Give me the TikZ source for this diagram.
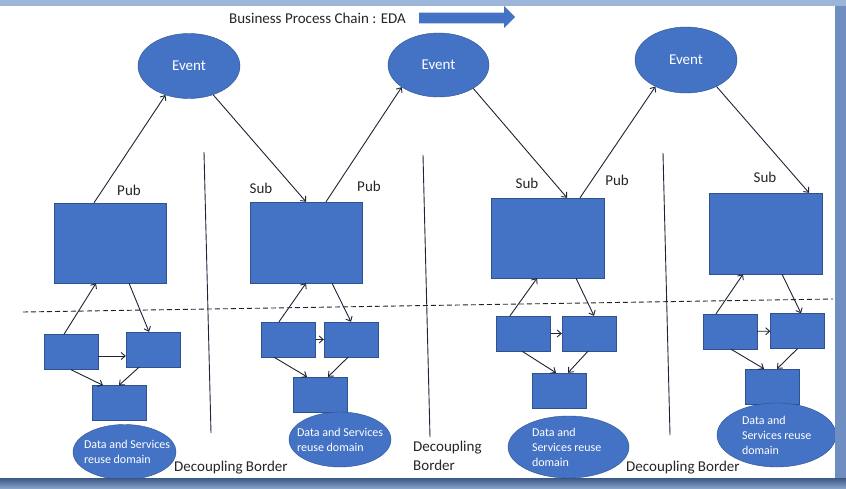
\documentclass[tikz,border=0pt]{standalone}
\usepackage{fontspec}
\setmainfont{Carlito}
\usetikzlibrary{shapes,arrows.meta}

\definecolor{ppblue}{HTML}{4472C4}
\definecolor{ppedge}{HTML}{2F528F}
\definecolor{lnk}{HTML}{1C2436}
\definecolor{frametop}{HTML}{9DB5D8}
\definecolor{frameside}{HTML}{6F8FC2}
\definecolor{framelow}{HTML}{4A6EA6}

\begin{document}
\begin{tikzpicture}[x=1pt,y=-1pt,>={Straight Barb[length=4pt,width=7pt]}]
\tikzstyle{event}=[ellipse,draw=ppedge,fill=ppblue,text=white,minimum width=102pt,minimum height=65pt,inner sep=0pt,font=\fontsize{15}{18}\selectfont]
\tikzstyle{bigbox}=[rectangle,draw=ppedge,fill=ppblue,minimum width=112pt,minimum height=80pt,inner sep=0pt]
\tikzstyle{smallbox}=[rectangle,draw=ppedge,fill=ppblue,minimum width=54pt,minimum height=35pt,inner sep=0pt]
\tikzstyle{reusedom}=[ellipse,draw=ppedge,fill=ppblue,inner sep=0pt]
\tikzstyle{dtext}=[text=white,align=left,anchor=west,inner sep=0pt,font=\fontsize{12}{15}\selectfont]
\tikzstyle{tag}=[text=black!85,inner sep=0pt,font=\fontsize{15}{19}\selectfont]
\tikzstyle{link}=[->,draw=lnk,line width=0.9pt]

% window frame
\fill[frametop] (0,0) rectangle (846,489);
\fill[white] (0,6) rectangle (835,478);

% title
\node[tag,anchor=base west] (chain) at (229,23.3) {Business Process Chain : EDA};
\fill[ppblue] (419,12.7) -- (504,12.7) -- (504,6) -- (515,17) -- (504,28) -- (504,23.3) -- (419,23.3) -- cycle;

% events
\node[event] (E1) at (189,66) {Event};
\node[event,minimum width=101pt,minimum height=64pt] (E2) at (438.5,65) {Event};
\node[event,minimum height=66pt] (E3) at (686,60) {Event};

% process boxes
\node[bigbox] (B1) at (110,243) {};
\node[bigbox,minimum height=81pt] (B2) at (306,242.5) {};
\node[bigbox,minimum width=113pt] (B3) at (547.5,238) {};
\node[bigbox,minimum width=113pt,minimum height=81pt] (B4) at (765.5,233.5) {};

\node[tag] (pub1) at (129,190) {Pub};
\node[tag] (sub2) at (261,188) {Sub};
\node[tag] (pub2) at (369,186) {Pub};
\node[tag] (sub3) at (527,183) {Sub};
\node[tag] (pub3) at (617,180) {Pub};
\node[tag] (sub4) at (765,177) {Sub};

\draw[link] ([xshift=-16pt]B1.north) -- (E1.231);
\draw[link] (E1.310) -- (B2.north);
\draw[link] ([xshift=20pt]B2.north) -- (E2.211);
\draw[link] (E2.326) -- ([xshift=19.5pt]B3.north);
\draw[link] ([xshift=32.5pt]B3.north) -- (E3.221);
\draw[link] (E3.319) -- ([xshift=43.5pt]B4.north);

% decoupling borders
\draw[lnk,line width=0.9pt] (204,152) -- (211,433);
\draw[lnk,line width=0.9pt] (423,155) -- (430,437);
\draw[lnk,line width=0.9pt] (663,153) -- (670,435);
\draw[lnk,line width=0.9pt,dash pattern=on 5pt off 3pt] (23,312) -- (833,299);

% reuse domains
\node[smallbox] (s1a) at (71,352) {};
\node[smallbox] (s1b) at (153,349.5) {};
\node[smallbox] (s1c) at (119,403) {};
\node[smallbox] (s2a) at (288.5,339.5) {};
\node[smallbox] (s2b) at (351,339.5) {};
\node[smallbox] (s2c) at (320,394.5) {};
\node[smallbox] (s3a) at (523.5,333.5) {};
\node[smallbox] (s3b) at (589,333.5) {};
\node[smallbox] (s3c) at (559,390.5) {};
\node[smallbox] (s4a) at (730,331.5) {};
\node[smallbox] (s4b) at (797.5,331) {};
\node[smallbox] (s4c) at (772.5,386.5) {};

\draw[link] ([xshift=-7pt]s1a.north) -- ([xshift=-14pt]B1.south);
\draw[link] ([xshift=19pt]B1.south) -- ([xshift=-4pt]s1b.north);
\draw[link] ([yshift=-4pt]s1a.east) -- ([yshift=-4pt]s1a.east -| s1b.west);
\draw[link] (s1a.south) -- ([xshift=-16pt]s1c.north);
\draw[link] ([xshift=-14pt]s1b.south) -- (s1c.north);

\draw[link] ([xshift=-9.5pt]s2a.north) -- (B2.south);
\draw[link] ([xshift=26pt]B2.south) -- (s2b.north);
\draw[link] (s2a) -- (s2b);
\draw[link] ([xshift=-14.5pt]s2a.south) -- ([xshift=-13pt]s2c.north);
\draw[link] ([xshift=-3pt]s2b.south) -- ([xshift=8pt]s2c.north);

\draw[link] ([xshift=-13.5pt]s3a.north) -- ([xshift=-10.5pt]B3.south);
\draw[link] ([xshift=28.5pt]B3.south) -- ([xshift=5pt]s3b.north);
\draw[link] (s3a) -- (s3b);
\draw[link] ([xshift=-1.5pt]s3a.south) -- ([xshift=-3pt]s3c.north);
\draw[link] ([xshift=-1pt]s3b.south) -- ([xshift=9pt]s3c.north);

\draw[link] ([xshift=-14pt]s4a.north) -- ([xshift=-22.5pt]B4.south);
\draw[link] ([xshift=16.5pt]B4.south) -- ([xshift=3.5pt]s4b.north);
\draw[link] (s4a) -- (s4b);
\draw[link] ([xshift=1pt]s4a.south) -- ([xshift=-8.5pt]s4c.north);
\draw[link] (s4b.south) -- ([xshift=4.5pt]s4c.north);

\node[reusedom,minimum width=103pt,minimum height=55pt] (d1) at (124.5,452) {};
\node[reusedom,minimum width=102pt,minimum height=55pt] (d2) at (340,439.5) {};
\node[reusedom,minimum width=121pt,minimum height=62pt] (d3) at (568.5,447) {};
\node[reusedom,minimum width=119pt,minimum height=64pt] (d4) at (776.5,435) {};
\node[dtext] (t1) at ([xshift=11pt]d1.west) {Data and Services\\reuse domain};
\node[dtext] (t2) at ([xshift=8pt]d2.west) {Data and Services\\reuse domain};
\node[dtext] (t3) at ([xshift=24pt]d3.west) {Data and\\Services reuse\\domain};
\node[dtext] (t4) at ([xshift=25pt]d4.west) {Data and\\Services reuse\\domain};

\node[tag,anchor=base west] (border1) at (174,471) {Decoupling Border};
\node[tag,anchor=west,align=left] (border2) at (413,456) {Decoupling\\Border};
\node[tag,anchor=base west] (border3) at (626,471) {Decoupling Border};

% frame strips
\fill[frameside] (835,6) rectangle (846,478);
\shade[top color=framelow!80!black,bottom color=frametop!80!framelow] (0,478) rectangle (846,489);
\end{tikzpicture}
\end{document}
